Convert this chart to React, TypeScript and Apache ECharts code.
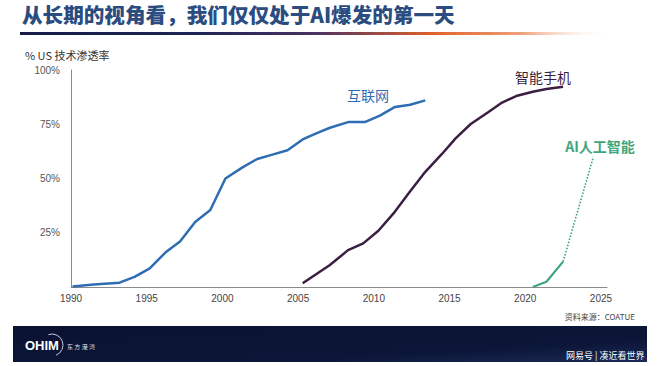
import React, { useEffect, useRef } from "react";
import * as echarts from "echarts";

const internetYears = [1990.1, 1991.5, 1993.2, 1994.2, 1995.2, 1996.25, 1997.2, 1998.2, 1999.2, 2000.2, 2001.3, 2002.3, 2003.3, 2004.3, 2005.3, 2006.2, 2007.1, 2008.3, 2009.4, 2010.4, 2011.4, 2012.4, 2013.4];
const internetPct = [0.2, 1.2, 2, 4.7, 8.6, 16, 21, 30, 35.5, 50, 55, 59, 61, 63, 68, 70.8, 73.4, 76, 76, 79, 83, 84, 86];

const phoneYears = [2005.3, 2007.1, 2008.3, 2009.3, 2010.3, 2011.3, 2012.3, 2013.4, 2014.5, 2015.4, 2016.4, 2017.5, 2018.4, 2019.4, 2020.5, 2021.4, 2022.5];
const phonePct = [1.7, 10.1, 17, 20.1, 25.9, 33.9, 43.2, 53.1, 61.3, 68.5, 75.1, 80.3, 84.7, 88, 90, 91.2, 92.3];

const aiYears = [2020.5, 2021.4, 2022.5];
const aiPct = [0, 2.4, 11.7];
const aiProjYears = [2022.5, 2024.5];
const aiProjPct = [11.7, 60];

const yTicks = [0, 25, 50, 75, 100];

const zip = (xs: number[], ys: number[]) => xs.map((x, i) => [x, ys[i]]);

export default function App() {
  const ref = useRef<HTMLDivElement>(null);
  useEffect(() => {
    document.body.style.margin = "0";
    const chart = echarts.init(ref.current!, undefined, { renderer: "svg" });
    chart.setOption({
      animation: false,
      backgroundColor: "#ffffff",
      grid: { left: 71, right: 53, top: 70, bottom: 79 },
      xAxis: {
        type: "value",
        min: 1990,
        max: 2025.4,
        interval: 5,
        axisLine: { show: true, lineStyle: { color: "#8a8a8a", width: 1 } },
        axisTick: { show: false },
        splitLine: { show: false },
        axisLabel: {
          color: "#444",
          fontSize: 10,
          fontFamily: "Liberation Sans",
          margin: 6,
          formatter: (v: number) => (Math.abs(v % 5) < 1e-6 ? String(v) : ""),
        },
      },
      yAxis: {
        type: "value",
        min: yTicks[0],
        max: yTicks[yTicks.length - 1],
        interval: 25,
        axisLine: { show: true, lineStyle: { color: "#8a8a8a", width: 1 } },
        axisTick: { show: false },
        splitLine: { show: false },
        axisLabel: {
          color: "#555",
          fontSize: 10,
          fontFamily: "Liberation Sans",
          margin: 11,
          formatter: (v: number) => (v === 0 ? "" : v + "%"),
        },
      },
      series: [
        {
          name: "互联网",
          type: "line",
          data: zip(internetYears, internetPct),
          symbol: "none",
          lineStyle: { color: "#2f6db3", width: 2.5 },
        },
        {
          name: "智能手机",
          type: "line",
          data: zip(phoneYears, phonePct),
          symbol: "none",
          lineStyle: { color: "#3a1f42", width: 2.5 },
        },
        {
          name: "AI人工智能",
          type: "line",
          data: zip(aiYears, aiPct),
          symbol: "none",
          lineStyle: { color: "#3ea67c", width: 2.2 },
        },
        {
          name: "AI预测",
          type: "line",
          data: zip(aiProjYears, aiProjPct),
          symbol: "none",
          lineStyle: { color: "#3ea67c", width: 1.6, type: "dotted" },
        },
      ],
      graphic: [
        {
          type: "text",
          left: 22,
          top: 4,
          style: {
            text: "从长期的视角看，我们仅仅处于AI爆发的第一天",
            fill: "#2b4c80",
            font: "900 20.6px 'Noto Sans CJK SC'",
          },
        },
        {
          type: "rect",
          shape: { x: 20, y: 32, width: 590, height: 3 },
          style: {
            fill: new echarts.graphic.LinearGradient(0, 0, 1, 0, [
              { offset: 0, color: "#161b46" },
              { offset: 0.3, color: "#1f2456" },
              { offset: 0.5, color: "#4a3262" },
              { offset: 0.7, color: "#e0622a" },
              { offset: 0.85, color: "#eea07a" },
              { offset: 1, color: "rgba(255,255,255,0)" },
            ]),
          },
        },
        {
          type: "text",
          left: 25,
          top: 49,
          style: {
            text: "% US 技术渗透率",
            fill: "#333",
            font: "11px 'Noto Sans CJK SC'",
          },
        },
        {
          type: "text",
          x: 368,
          y: 95,
          style: {
            text: "互联网",
            fill: "#2f6db3",
            font: "14px 'Noto Sans CJK SC'",
            align: "center",
            verticalAlign: "middle",
          },
        },
        {
          type: "text",
          x: 543,
          y: 77,
          style: {
            text: "智能手机",
            fill: "#3a1f42",
            font: "14px 'Noto Sans CJK SC'",
            align: "center",
            verticalAlign: "middle",
          },
        },
        {
          type: "text",
          x: 600,
          y: 146,
          style: {
            text: "AI人工智能",
            fill: "#3ea67c",
            font: "bold 14px 'Noto Sans CJK SC'",
            align: "center",
            verticalAlign: "middle",
          },
        },
        {
          type: "text",
          right: 25,
          top: 312,
          style: {
            text: "资料来源：COATUE",
            fill: "#444",
            font: "8px 'Noto Sans CJK SC'",
          },
        },
        {
          type: "rect",
          shape: { x: 13, y: 326, width: 634, height: 36 },
          style: {
            fill: new echarts.graphic.LinearGradient(0, 0, 1, 1, [
              { offset: 0, color: "#0a1232" },
              { offset: 0.7, color: "#0b1638" },
              { offset: 1, color: "#1c2a55" },
            ]),
          },
        },
        {
          type: "text",
          x: 25,
          y: 345,
          style: {
            text: "OHIM",
            fill: "#ffffff",
            font: "bold 13px 'Liberation Sans'",
            verticalAlign: "middle",
          },
        },
        {
          type: "arc",
          shape: { cx: 52, cy: 345, r: 11, startAngle: -1.9, endAngle: 1.2 },
          style: { stroke: "#c8c8d8", lineWidth: 1, fill: "none" },
        },
        {
          type: "text",
          x: 67,
          y: 346,
          style: {
            text: "东 方 港 湾",
            fill: "#e0e0e8",
            font: "6px 'Noto Sans CJK SC'",
            verticalAlign: "middle",
          },
        },
        {
          type: "text",
          x: 566,
          y: 355,
          style: {
            text: "网易号 | 凑近看世界",
            fill: "#ffffff",
            font: "9px 'Noto Sans CJK SC'",
            verticalAlign: "middle",
          },
        },
      ],
    });
    return () => chart.dispose();
  }, []);
  return (
    <div
      ref={ref}
      style={{ position: "absolute", left: 0, top: 0, width: 660, height: 366 }}
    />
  );
}
